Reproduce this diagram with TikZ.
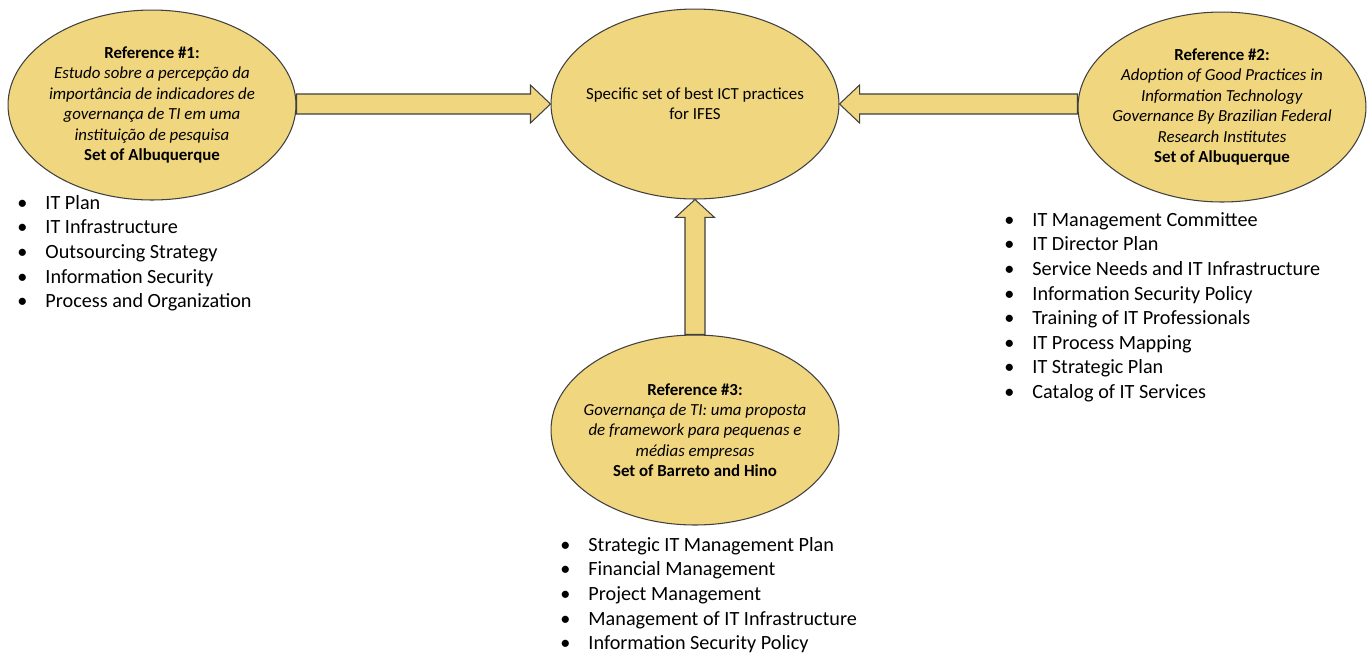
\documentclass[tikz,border=0pt]{standalone}
\usepackage{fontspec}
\setmainfont{Carlito}
\usetikzlibrary{shapes.geometric,calc}

\definecolor{sand}{RGB}{241,214,128}
\definecolor{rim}{RGB}{64,64,64}

\tikzset{
  refblob/.style={ellipse, draw=rim, fill=sand, line width=0.6pt,
    minimum width=5.76cm, minimum height=3.8cm, inner xsep=-8pt, inner ysep=0pt,
    align=center, font=\fontsize{9.6}{11.6}\selectfont},
  fatarrow/.style={draw=rim, fill=sand, line width=0.6pt, line join=miter},
  bullets/.style={anchor=north west, inner sep=0pt, align=left,
    font=\fontsize{11.5}{14}\selectfont}
}
\newcommand{\bul}{\makebox[16pt][l]{\textbullet}}

\begin{document}
\begin{tikzpicture}[x=0.02cm, y=-0.02cm]
\useasboundingbox (0,0) rectangle (1367,654);

% the four ellipses
\node[refblob] (best) at (695,104) {Specific set of best ICT practices\\for IFES};
\node[refblob] (ref1) at (152,105) {\textbf{Reference \#1:}\\
    \textit{Estudo sobre a percepção da}\\ \textit{importância de indicadores de}\\
    \textit{governança de TI em uma}\\ \textit{instituição de pesquisa}\\
    \textbf{Set of Albuquerque}};
\node[refblob] (ref2) at (1222,107) {\textbf{Reference \#2:}\\
    \textit{Adoption of Good Practices in}\\ \textit{Information Technology}\\
    \textit{Governance By Brazilian Federal}\\ \textit{Research Institutes}\\
    \textbf{Set of Albuquerque}};
\node[refblob] (ref3) at (695,430) {\textbf{Reference \#3:}\\
    \textit{Governança de TI: uma proposta}\\ \textit{de framework para pequenas e}\\
    \textit{médias empresas}\\ \textbf{Set of Barreto and Hino}};

% block arrows into the centre
\draw[fatarrow] let \p1=(ref1.east), \p2=(best.west) in
  (\x1,\y2+5.7pt) -- (\x2-11.4pt,\y2+5.7pt) -- (\x2-11.4pt,\y2+10.8pt) -- (\x2,\y2)
  -- (\x2-11.4pt,\y2-10.8pt) -- (\x2-11.4pt,\y2-5.7pt) -- (\x1,\y2-5.7pt) -- cycle;
\draw[fatarrow] let \p1=(ref2.west), \p2=(best.east) in
  (\x1,\y2+5.7pt) -- (\x2+11.4pt,\y2+5.7pt) -- (\x2+11.4pt,\y2+10.8pt) -- (\x2,\y2)
  -- (\x2+11.4pt,\y2-10.8pt) -- (\x2+11.4pt,\y2-5.7pt) -- (\x1,\y2-5.7pt) -- cycle;
\draw[fatarrow] let \p1=(ref3.north), \p2=(best.south) in
  (\x2-5.7pt,\y1) -- (\x2-5.7pt,\y2-10.2pt) -- (\x2-11.1pt,\y2-10.2pt) -- (\x2,\y2)
  -- (\x2+11.1pt,\y2-10.2pt) -- (\x2+5.7pt,\y2-10.2pt) -- (\x2+5.7pt,\y1) -- cycle;

% the lists of practices
\node[bullets] (list1) at (17,195) {\bul IT Plan\\ \bul IT Infrastructure\\
    \bul Outsourcing Strategy\\ \bul Information Security\\ \bul Process and Organization};
\node[bullets] (list2) at (1004,212) {\bul IT Management Committee\\ \bul IT Director Plan\\
    \bul Service Needs and IT Infrastructure\\ \bul Information Security Policy\\
    \bul Training of IT Professionals\\ \bul IT Process Mapping\\ \bul IT Strategic Plan\\
    \bul Catalog of IT Services};
\node[bullets] (list3) at (560,537) {\bul Strategic IT Management Plan\\ \bul Financial Management\\
    \bul Project Management\\ \bul Management of IT Infrastructure\\
    \bul Information Security Policy};
\end{tikzpicture}
\end{document}
